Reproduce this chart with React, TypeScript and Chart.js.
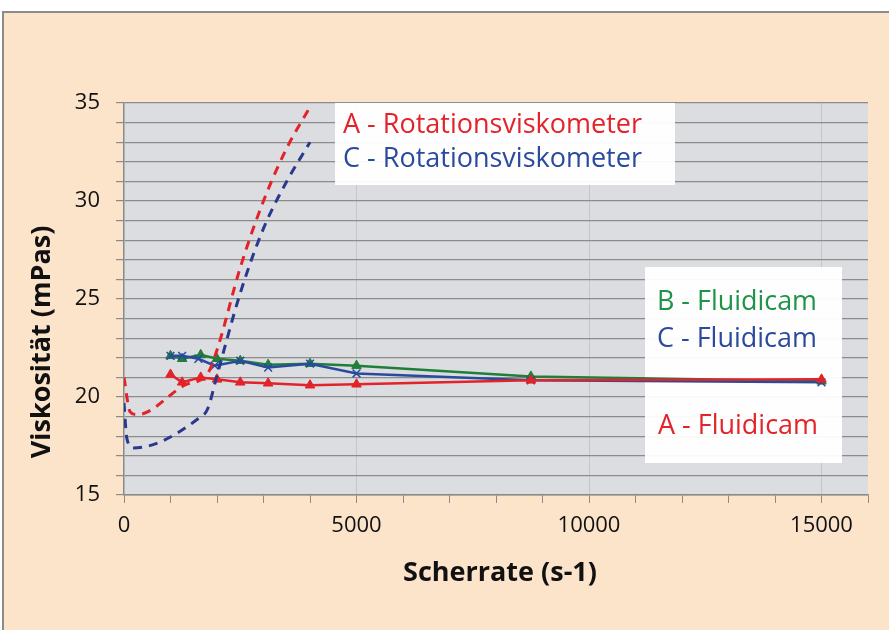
import React, { useEffect, useRef } from "react";
import { Chart, registerables } from "chart.js";

Chart.register(...registerables);

// Rotationsviskometer (dashed)
const rotAX = [0, 130, 280, 1300, 1800, 2000, 2500, 3000, 3500, 4000];
const rotAY = [21.0, 19.25, 19.1, 20.6, 21.2, 22.4, 26.6, 30.0, 32.7, 34.8];
const rotCX = [0, 60, 200, 1600, 1800, 2000, 2500, 3000, 3500, 4000];
const rotCY = [19.7, 17.9, 17.4, 18.9, 19.4, 21.1, 25.3, 28.6, 31.0, 33.0];

// Fluidicam (solid)
const fluidAX = [1000, 1250, 1650, 2000, 2500, 3100, 4000, 5000, 8750, 15000];
const fluidAY = [21.15, 20.75, 21.0, 20.9, 20.75, 20.7, 20.6, 20.65, 20.85, 20.9];
const fluidBX = [1000, 1250, 1650, 2000, 2500, 3100, 4000, 5000, 8750, 15000];
const fluidBY = [22.1, 21.95, 22.15, 21.95, 21.85, 21.65, 21.7, 21.6, 21.05, 20.8];
const fluidCX = [1000, 1250, 1600, 1950, 2500, 3100, 4000, 5000, 8750, 15000];
const fluidCY = [22.1, 22.1, 21.95, 21.6, 21.85, 21.5, 21.7, 21.2, 20.85, 20.75];

const xMin = 0, xMax = 16000, xStep = 1000, xLabelStep = 5000;
const yMin = 15, yMax = 35, yStep = 1, yLabelStep = 5;

const legendRot = ["A - Rotationsviskometer", "C - Rotationsviskometer"];
const legendFluid = ["B - Fluidicam", "C - Fluidicam", "A - Fluidicam"];
const xTitle = "Scherrate (s-1)";
const yTitle = "Viskosität (mPas)";

const RED = "#E3232A";
const BLUE = "#2A4A9E";
const NAVY = "#29398C";
const GREEN = "#1F7F38";
const GREEN_TXT = "#1E9448";

const pts = (xs: number[], ys: number[]) => xs.map((x, i) => ({ x, y: ys[i] }));

const decor = {
  id: "decor",
  beforeDraw(chart: any) {
    const { ctx, chartArea: a, width, height } = chart;
    ctx.save();
    ctx.fillStyle = "#ffffff";
    ctx.fillRect(0, 0, width, height);
    ctx.fillStyle = "#FCE4CB";
    ctx.fillRect(3, 12, width - 3, height - 12);
    ctx.strokeStyle = "#8c8c8c";
    ctx.lineWidth = 2;
    ctx.beginPath();
    ctx.moveTo(3, height);
    ctx.lineTo(3, 12);
    ctx.lineTo(width, 12);
    ctx.stroke();
    ctx.fillStyle = "#DCDDE0";
    ctx.fillRect(a.left, a.top, a.right - a.left, a.bottom - a.top);
    ctx.restore();
  },
  beforeDatasetsDraw(chart: any) {
    const { ctx } = chart;
    ctx.save();
    ctx.fillStyle = "rgba(255,255,255,0.95)";
    ctx.fillRect(335, 103, 340, 82);
    ctx.fillRect(645, 267, 197, 196);
    ctx.font = '27px "Open Sans"';
    ctx.textBaseline = "alphabetic";
    ctx.textAlign = "left";
    ctx.fillStyle = RED;
    ctx.fillText(legendRot[0], 343, 133, 304);
    ctx.fillStyle = BLUE;
    ctx.fillText(legendRot[1], 343, 167, 304);
    ctx.fillStyle = GREEN_TXT;
    ctx.fillText(legendFluid[0], 657, 310, 160);
    ctx.fillStyle = BLUE;
    ctx.fillText(legendFluid[1], 657, 347, 160);
    ctx.fillStyle = RED;
    ctx.fillText(legendFluid[2], 658, 434, 160);

    ctx.fillStyle = "#111111";
    ctx.font = 'bold 27px "Open Sans"';
    ctx.textAlign = "center";
    ctx.textBaseline = "middle";
    ctx.fillText(xTitle, 500, 573);
    ctx.translate(42, 342);
    ctx.rotate(-Math.PI / 2);
    ctx.fillText(yTitle, 0, 0);
    ctx.restore();
  },
};

export default function App() {
  const ref = useRef<HTMLCanvasElement>(null);
  useEffect(() => {
    if (!ref.current) return;
    const chart = new Chart(ref.current, {
      type: "scatter",
      data: {
        datasets: [
          {
            label: legendRot[0],
            data: pts(rotAX, rotAY),
            showLine: true,
            borderColor: RED,
            borderWidth: 3,
            borderDash: [9, 7],
            pointRadius: 0,
            cubicInterpolationMode: "monotone",
          },
          {
            label: legendRot[1],
            data: pts(rotCX, rotCY),
            showLine: true,
            borderColor: NAVY,
            borderWidth: 3,
            borderDash: [9, 7],
            pointRadius: 0,
            cubicInterpolationMode: "monotone",
          },
          {
            label: legendFluid[2],
            data: pts(fluidAX, fluidAY),
            showLine: true,
            borderColor: RED,
            backgroundColor: RED,
            borderWidth: 2.5,
            pointStyle: "triangle",
            pointRadius: 5.5,
            pointBorderWidth: 1,
          },
          {
            label: legendFluid[1],
            data: pts(fluidCX, fluidCY),
            showLine: true,
            borderColor: BLUE,
            backgroundColor: BLUE,
            borderWidth: 2.5,
            pointStyle: "crossRot",
            pointRadius: 5.5,
            pointBorderWidth: 1.5,
          },
          {
            label: legendFluid[0],
            data: pts(fluidBX, fluidBY),
            showLine: true,
            borderColor: GREEN,
            backgroundColor: GREEN,
            borderWidth: 2.5,
            pointStyle: "triangle",
            pointRadius: 5.5,
            pointBorderWidth: 1,
          },
        ],
      },
      options: {
        animation: false,
        responsive: false,
        devicePixelRatio: 1,
        layout: { padding: { top: 103, right: 21, left: 0, bottom: 0 } },
        plugins: { legend: { display: false }, tooltip: { enabled: false } },
        scales: {
          x: {
            type: "linear",
            min: xMin,
            max: xMax,
            afterFit: (s: any) => { s.height = 135; },
            ticks: {
              stepSize: xStep,
              autoSkip: false,
              maxRotation: 0,
              padding: 10,
              color: "#111111",
              font: { family: "Open Sans", size: 22 },
              callback: (v: any) => (Number(v) % xLabelStep === 0 ? String(v) : ""),
            },
            grid: {
              color: (c: any) =>
                c.tick && c.tick.value % xLabelStep === 0 && c.tick.value !== 0 ? "#c4c6c9" : "rgba(0,0,0,0)",
              tickColor: "#8a8a8a",
              tickLength: 8,
              lineWidth: 1,
            },
            border: { color: "#8a8a8a", width: 1.5 },
          },
          y: {
            type: "linear",
            min: yMin,
            max: yMax,
            afterFit: (s: any) => { s.width = 124; },
            ticks: {
              stepSize: yStep,
              autoSkip: false,
              padding: 16,
              color: "#111111",
              font: { family: "Open Sans", size: 22 },
              callback: (v: any) => (Number(v) % yLabelStep === 0 ? String(v) : ""),
            },
            grid: {
              color: "#8c8c8c",
              tickColor: "#8a8a8a",
              tickLength: 8,
              lineWidth: 1.2,
            },
            border: { color: "#8a8a8a", width: 1.5 },
          },
        },
      },
      plugins: [decor],
    });
    return () => chart.destroy();
  }, []);
  return (
    <div style={{ position: "absolute", left: 0, top: 0, width: 889, height: 630 }}>
      <canvas ref={ref} width={889} height={630} style={{ display: "block", width: 889, height: 630 }} />
    </div>
  );
}
